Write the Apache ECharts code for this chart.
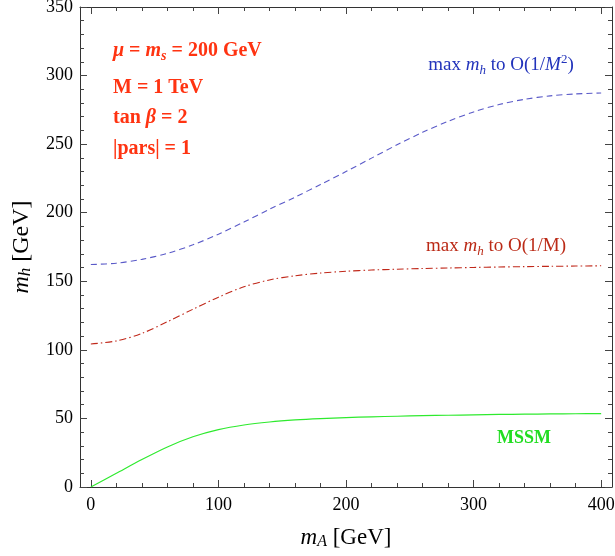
<!DOCTYPE html>
<html lang="en">
<head>
<meta charset="UTF-8">
<title>m_h vs m_A</title>
<script src="https://cdn.jsdelivr.net/npm/echarts@6/dist/echarts.min.js"></script>
<style>
    html,body{margin:0;padding:0;background:#fff;}
    #main{width:615px;height:556px;}
</style>
</head>
<body>
<div id="main"></div>
<script>
// m_A [GeV] sample points (shared by the three curves)
var mA = [0,20,40,60,80,100,120,140,160,180,200,220,240,260,280,300,320,340,360,380,400];
// max m_h to O(1/M^2)  (blue dashed)
var mhM2 = [162.2,163.2,166,170.3,176.6,184.3,193.2,202.5,211.3,220.6,230,239.8,249.5,258.6,266.6,273.5,278.9,282.7,285.2,286.6,287.3];
// max m_h to O(1/M)  (red dash-dot)
var mhM1 = [104.3,106.5,112,120.5,129.6,138.4,146,151,154,156,157.3,158.2,158.8,159.3,159.7,160.1,160.4,160.7,160.9,161.1,161.3];
// MSSM (green)
var mhMSSM = [0,10,20,29.2,36.6,41.8,45.2,47.4,48.9,49.9,50.6,51.2,51.6,52,52.3,52.6,52.9,53.1,53.3,53.4,53.5];

// tick positions
var xMajor = [0,100,200,300,400];
var xMinor = [20,40,60,80,120,140,160,180,220,240,260,280,320,340,360,380];

var FF = '"Liberation Serif", "DejaVu Serif", serif';

function pairs(xs, ys) {
    var out = [];
    for (var i = 0; i < xs.length; i++) out.push([xs[i], ys[i]]);
    return out;
}

// x axis helper: major/minor, bottom/top
function xAx(pos, ticks, len, withLine, withLabel) {
    return {
        type: 'value', position: pos, min: -8.5, max: 408.5,
        axisLine: {show: withLine, onZero: false, lineStyle: {color: '#333', width: 1}},
        axisTick: {show: true, inside: true, length: len, customValues: ticks, lineStyle: {color: '#444', width: 1}},
        axisLabel: withLabel ? {show: true, customValues: ticks, fontFamily: FF, fontSize: 18, color: '#000', margin: 9} : {show: false},
        splitLine: {show: false}
    };
}
function yAx(pos, withLabel) {
    return {
        type: 'value', position: pos, min: 0, max: 350, interval: 50,
        axisLine: {show: true, onZero: false, lineStyle: {color: '#333', width: 1}},
        axisTick: {show: true, inside: true, length: 7, lineStyle: {color: '#444', width: 1}},
        minorTick: {show: true, splitNumber: 5, length: 4, lineStyle: {color: '#444', width: 1}},
        axisLabel: withLabel ? {show: true, fontFamily: FF, fontSize: 18, color: '#000', margin: 7} : {show: false},
        splitLine: {show: false}
    };
}

var fParam = 'bold 20px ' + FF;
var fParamI = 'italic bold 20px ' + FF;
var fParamS = 'italic bold 14px ' + FF;

function paramText(y, txt) {
    return {
        type: 'text', x: 113, y: y,
        style: {
            text: txt, font: fParam, fill: '#ff3311', align: 'left', verticalAlign: 'middle',
            rich: {
                n: {font: fParam, fill: '#ff3311', lineHeight: 24},
                i: {font: fParamI, fill: '#ff3311', lineHeight: 24},
                s: {font: fParamS, fill: '#ff3311', lineHeight: 12, verticalAlign: 'bottom'}
            }
        }
    };
}

function labelRich(col, size) {
    return {
        n: {font: size + 'px ' + FF, fill: col, lineHeight: 24},
        i: {font: 'italic ' + size + 'px ' + FF, fill: col, lineHeight: 24},
        s: {font: 'italic ' + Math.round(size * 0.7) + 'px ' + FF, fill: col, lineHeight: 12, verticalAlign: 'bottom'},
        p: {font: Math.round(size * 0.7) + 'px ' + FF, fill: col, lineHeight: 14, verticalAlign: 'top'}
    };
}

var myChart = echarts.init(document.getElementById('main'), null, {renderer: 'canvas'});
var option = {
    backgroundColor: '#fff',
    animation: false,
    grid: {left: 80, right: 3, top: 7, bottom: 69, containLabel: false, outerBoundsMode: 'none'},
    xAxis: [
        xAx('bottom', xMajor, 7, true, true),
        xAx('bottom', xMinor, 4, false, false),
        xAx('top', xMajor, 7, true, false),
        xAx('top', xMinor, 4, false, false)
    ],
    yAxis: [yAx('left', true), yAx('right', false)],
    series: [
        {
            name: 'O(1/M^2)', type: 'line', data: pairs(mA, mhM2),
            showSymbol: false, smooth: 0.3,
            lineStyle: {color: '#5a5ac8', width: 1.1, type: [6, 4]}
        },
        {
            name: 'O(1/M)', type: 'line', data: pairs(mA, mhM1),
            showSymbol: false, smooth: 0.3,
            lineStyle: {color: '#c0281a', width: 1.1, type: [7, 3, 1.5, 3]}
        },
        {
            name: 'MSSM', type: 'line', data: pairs(mA, mhMSSM),
            showSymbol: false, smooth: 0.3,
            lineStyle: {color: '#2eea2e', width: 1.2}
        }
    ],
    graphic: [
        paramText(51, '{i|μ}{n| = }{i|m}{s|s}{n| = 200 GeV}'),
        paramText(88, '{n|M = 1 TeV}'),
        paramText(118, '{n|tan }{i|β}{n| = 2}'),
        paramText(149, '{n||pars| = 1}'),
        {
            type: 'text', x: 501, y: 65,
            style: {text: '{n|max }{i|m}{s|h}{n| to O(1/}{i|M}{p|2}{n|)}', align: 'center', verticalAlign: 'middle',
                rich: labelRich('#2233bb', 19)}
        },
        {
            type: 'text', x: 496, y: 246,
            style: {text: '{n|max }{i|m}{s|h}{n| to O(1/M)}', align: 'center', verticalAlign: 'middle',
                rich: labelRich('#bb2a16', 19)}
        },
        {
            type: 'text', x: 524, y: 438,
            style: {text: 'MSSM', font: 'bold 18px ' + FF, fill: '#22dd22', align: 'center', verticalAlign: 'middle'}
        },
        // axis titles
        {
            type: 'text', x: 346, y: 538,
            style: {text: '{i|m}{s|A}{n| [GeV]}', align: 'center', verticalAlign: 'middle',
                rich: labelRich('#000', 23)}
        },
        {
            type: 'text', x: 22, y: 247, rotation: Math.PI / 2,
            style: {text: '{i|m}{s|h}{n| [GeV]}', align: 'center', verticalAlign: 'middle',
                rich: labelRich('#000', 24)}
        }
    ]
};
myChart.setOption(option);
</script>
</body>
</html>
